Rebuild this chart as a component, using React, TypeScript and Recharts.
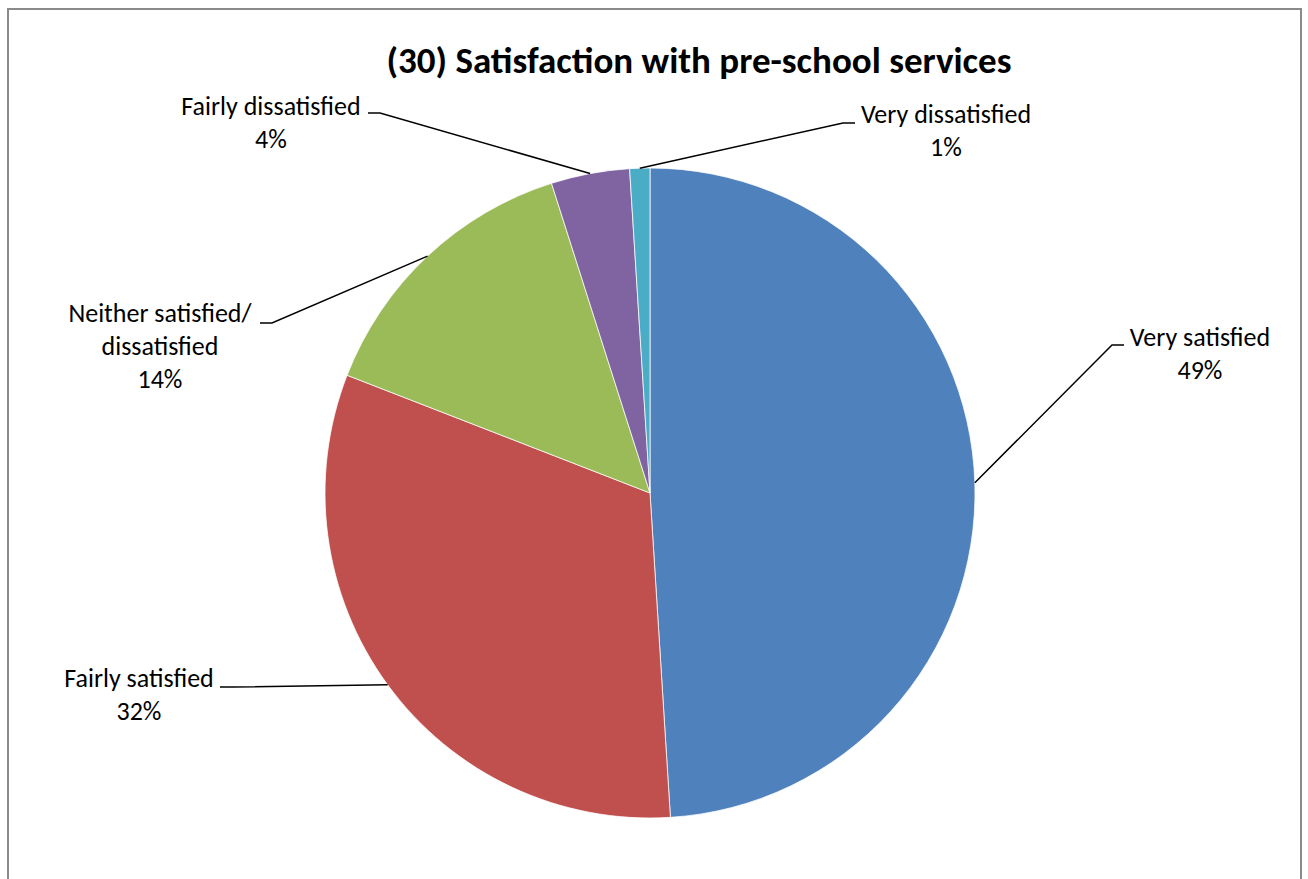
import * as React from "react";
import { Cell, Pie, PieChart } from "recharts";

const categories = [
  "Very satisfied",
  "Fairly satisfied",
  "Neither satisfied/ dissatisfied",
  "Fairly dissatisfied",
  "Very dissatisfied",
];
const shares = [49.0, 31.9, 14.2, 3.9, 1.0];
const percentLabels = ["49%", "32%", "14%", "4%", "1%"];
const labelLines = [
  ["Very satisfied"],
  ["Fairly satisfied"],
  ["Neither satisfied/", "dissatisfied"],
  ["Fairly dissatisfied"],
  ["Very dissatisfied"],
];
const colors = ["#4F81BD", "#C0504D", "#9BBB59", "#8064A2", "#4BACC6"];

// label layout, offsets from the pie centre (px)
const labelLayout = [
  { elbow: [462, -148], dir: 1, textX: 550, textY: -147 },
  { elbow: [-418, 194], dir: -1, textX: -511, textY: 194 },
  { elbow: [-378, -170], dir: -1, textX: -490, textY: -171 },
  { elbow: [-270, -380], dir: -1, textX: -379, textY: -378 },
  { elbow: [193, -370], dir: 1, textX: 296, textY: -370 },
];

const FONT = "Carlito, Calibri, Lato, 'Noto Sans', sans-serif";
const RAD = Math.PI / 180;
const LINE_H = 33;

const data = categories.map((name, i) => ({
  name,
  value: shares[i],
  pct: percentLabels[i],
}));

function renderLabel(props: any) {
  const { cx, cy, midAngle, outerRadius, index } = props;
  const l = labelLayout[index];
  const sx = cx + outerRadius * Math.cos(-midAngle * RAD);
  const sy = cy + outerRadius * Math.sin(-midAngle * RAD);
  const ex = cx + l.elbow[0];
  const ey = cy + l.elbow[1];
  const tx = ex + l.dir * 12;
  const lines = [...labelLines[index], percentLabels[index]];
  return (
    <g key={`lbl-${index}`}>
      <polyline
        points={`${sx},${sy} ${ex},${ey} ${tx},${ey}`}
        fill="none"
        stroke="#000"
        strokeWidth={1.5}
      />
      <text
        x={cx + l.textX}
        y={cy + l.textY}
        textAnchor="middle"
        fontFamily={FONT}
        fontSize={26}
        fill="#000"
      >
        {lines.map((t, k) => (
          <tspan key={k} x={cx + l.textX} dy={k === 0 ? 0 : LINE_H}>
            {t}
          </tspan>
        ))}
      </text>
    </g>
  );
}

export default function App() {
  return (
    <div
      style={{
        position: "absolute",
        left: 0,
        top: 0,
        width: 1308,
        height: 879,
        overflow: "hidden",
        background: "#fff",
      }}
    >
      <div
        style={{
          position: "absolute",
          left: 7,
          top: 8,
          width: 1291,
          height: 900,
          border: "2px solid #8a8a8a",
        }}
      />
      <div
        style={{
          position: "absolute",
          left: 0,
          top: 37,
          width: 1398,
          textAlign: "center",
          fontFamily: FONT,
          fontWeight: 700,
          fontSize: 37,
          lineHeight: "48px",
          color: "#000",
        }}
      >
        (30) Satisfaction with pre-school services
      </div>
      <div style={{ position: "absolute", left: 0, top: 0 }}>
        <PieChart
          width={1308}
          height={879}
          margin={{ top: 0, right: 0, bottom: 0, left: 0 }}
        >
          <Pie
            data={data}
            dataKey="value"
            nameKey="name"
            cx={650}
            cy={493}
            outerRadius={325}
            startAngle={90}
            endAngle={-270}
            stroke="#fff"
            strokeWidth={0.75}
            label={renderLabel}
            labelLine={false}
            isAnimationActive={false}
          >
            {data.map((d, i) => (
              <Cell key={d.name} fill={colors[i]} />
            ))}
          </Pie>
        </PieChart>
      </div>
    </div>
  );
}
